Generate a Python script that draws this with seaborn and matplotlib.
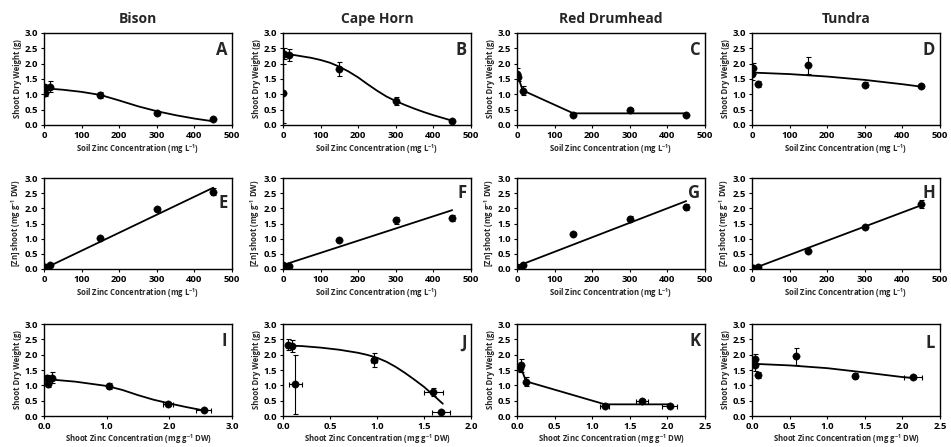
import numpy as np
import pandas as pd
import matplotlib
matplotlib.use("Agg")
import matplotlib.pyplot as plt
import seaborn as sns

# ---------------- data ----------------
cultivars = ["Bison", "Cape Horn", "Red Drumhead", "Tundra"]
soil_zn = [0, 3, 15, 150, 300, 450]

# shoot dry weight (g) and SE
weight_bison = [1.23, 1.03, 1.25, 0.98, 0.40, 0.20]
weight_bison_err = [0.12, 0.10, 0.18, 0.10, 0.06, 0.04]
weight_capehorn = [1.03, 2.32, 2.28, 1.83, 0.77, 0.12]
weight_capehorn_err = [0.95, 0.18, 0.20, 0.22, 0.13, 0.03]
weight_reddrum = [1.65, 1.55, 1.12, 0.32, 0.50, 0.33]
weight_reddrum_err = [0.20, 0.10, 0.15, 0.04, 0.05, 0.03]
weight_tundra = [1.67, 1.85, 1.33, 1.95, 1.32, 1.27]
weight_tundra_err = [0.20, 0.18, 0.10, 0.28, 0.07, 0.07]

# shoot Zn concentration (mg g-1 DW) and SE
shootzn_bison = [0.04, 0.06, 0.12, 1.03, 1.98, 2.55]
shootzn_bison_err = [0.01, 0.01, 0.02, 0.03, 0.08, 0.12]
shootzn_capehorn = [0.13, 0.05, 0.10, 0.97, 1.60, 1.68]
shootzn_capehorn_err = [0.07, 0.02, 0.02, 0.03, 0.10, 0.10]
shootzn_reddrum = [0.05, 0.04, 0.12, 1.17, 1.66, 2.03]
shootzn_reddrum_err = [0.01, 0.01, 0.02, 0.06, 0.08, 0.10]
shootzn_tundra = [0.04, 0.04, 0.08, 0.58, 1.37, 2.14]
shootzn_tundra_err = [0.01, 0.01, 0.01, 0.02, 0.03, 0.12]

# fitted curves
fitA_x = [0, 50, 100, 150, 200, 250, 300, 350, 400, 450]
fitA_y = [1.20, 1.15, 1.08, 0.98, 0.80, 0.61, 0.45, 0.32, 0.21, 0.12]
fitB_x = [0, 25, 50, 75, 100, 125, 150, 175, 200, 225, 250, 275, 300, 325, 350, 375, 400, 425, 450]
fitB_y = [2.32, 2.29, 2.24, 2.19, 2.12, 2.03, 1.90, 1.74, 1.55, 1.33, 1.12, 0.93, 0.78, 0.65,
          0.53, 0.42, 0.32, 0.23, 0.14]
fitC_x = [0, 15, 150, 450]
fitC_y = [1.68, 1.13, 0.38, 0.38]
fitD_x = [0, 100, 200, 300, 400, 450]
fitD_y = [1.71, 1.66, 1.58, 1.47, 1.33, 1.25]

fitE_x = [0, 450]
fitE_y = [0.01, 2.68]
fitF_x = [0, 450]
fitF_y = [0.13, 1.94]
fitG_x = [0, 450]
fitG_y = [0.09, 2.24]
fitH_x = [0, 450]
fitH_y = [0.00, 2.10]

fitI_x = [0.05, 0.5, 1.0, 1.25, 1.5, 1.75, 2.0, 2.25, 2.55]
fitI_y = [1.20, 1.12, 0.98, 0.85, 0.68, 0.53, 0.41, 0.30, 0.18]
fitJ_x = [0.05, 0.2, 0.4, 0.6, 0.8, 0.9, 1.0, 1.1, 1.2, 1.3, 1.4, 1.5, 1.6, 1.7]
fitJ_y = [2.30, 2.28, 2.23, 2.16, 2.06, 1.99, 1.90, 1.77, 1.60, 1.40, 1.18, 0.95, 0.68, 0.40]
fitK_x = [0.04, 0.12, 1.17, 2.03]
fitK_y = [1.66, 1.13, 0.38, 0.38]
fitL_x = [0.04, 0.5, 1.0, 1.5, 2.0, 2.14]
fitL_y = [1.70, 1.65, 1.56, 1.42, 1.27, 1.24]

letters = ["A", "B", "C", "D", "E", "F", "G", "H", "I", "J", "K", "L"]
row3_xmax = [3.0, 2.0, 2.5, 2.5]
row3_xstep = [1.0, 0.5, 0.5, 0.5]

# ---------------- style ----------------
sns.set_style("ticks")
plt.rcParams["font.family"] = ["Open Sans", "DejaVu Sans"]
plt.rcParams["font.weight"] = "bold"
plt.rcParams["mathtext.default"] = "regular"
plt.rcParams["axes.linewidth"] = 1.0

fig = plt.figure(figsize=(9.51, 4.47), dpi=100)
W, H = 951.0, 447.0
col_left = [44, 283, 517, 752]
ax_w = 188
rows_px = [(33, 125), (178, 269), (324, 416)]

weights = [weight_bison, weight_capehorn, weight_reddrum, weight_tundra]
weights_err = [weight_bison_err, weight_capehorn_err, weight_reddrum_err, weight_tundra_err]
shootzn = [shootzn_bison, shootzn_capehorn, shootzn_reddrum, shootzn_tundra]
shootzn_err = [shootzn_bison_err, shootzn_capehorn_err, shootzn_reddrum_err, shootzn_tundra_err]
fits_row1 = [(fitA_x, fitA_y), (fitB_x, fitB_y), (fitC_x, fitC_y), (fitD_x, fitD_y)]
fits_row2 = [(fitE_x, fitE_y), (fitF_x, fitF_y), (fitG_x, fitG_y), (fitH_x, fitH_y)]
fits_row3 = [(fitI_x, fitI_y), (fitJ_x, fitJ_y), (fitK_x, fitK_y), (fitL_x, fitL_y)]

tick_fs = 6.8
lab_fs = 5.6
letter_y = [[0.82, 0.82, 0.82, 0.82], [0.73, 0.83, 0.83, 0.83], [0.82, 0.80, 0.81, 0.79]]


def panel(ax, x, y, xerr, yerr, fit, letter, ly):
    ax.errorbar(x, y, xerr=xerr, yerr=yerr, fmt="none", ecolor="black",
                elinewidth=0.8, capsize=1.8, capthick=0.8, zorder=2)
    sns.lineplot(x=fit[0], y=fit[1], ax=ax, color="black", lw=1.3,
                 estimator=None, sort=False, zorder=3)
    sns.scatterplot(x=x, y=y, ax=ax, color="black", s=28, edgecolor="black",
                    linewidth=0.3, zorder=4)
    ax.set_ylim(0, 3.0)
    ax.set_yticks(np.arange(0, 3.01, 0.5))
    ax.set_yticklabels([f"{v:.1f}" for v in np.arange(0, 3.01, 0.5)])
    for s in ax.spines.values():
        s.set_visible(True)
        s.set_color("black")
    ax.tick_params(direction="out", length=2.5, width=0.8, labelsize=tick_fs,
                   pad=1.5, colors="black")
    ax.text(0.975, ly, letter, transform=ax.transAxes, ha="right", va="center",
            fontsize=12, fontweight="bold")


for r in range(3):
    top, bot = rows_px[r]
    for c in range(4):
        ax = fig.add_axes([col_left[c] / W, 1 - bot / H, ax_w / W, (bot - top) / H])
        letter = letters[r * 4 + c]
        ly = letter_y[r][c]
        if r == 0:
            panel(ax, soil_zn, weights[c], None, weights_err[c], fits_row1[c], letter, ly)
            ax.set_xlim(0, 500)
            ax.set_xticks(range(0, 501, 100))
            ax.set_ylabel("Shoot Dry Weight (g)", fontsize=lab_fs, fontweight="bold", labelpad=2)
            ax.set_xlabel("Soil Zinc Concentration (mg L$^{-1}$)", fontsize=lab_fs,
                          fontweight="bold", labelpad=2)
            fig.text((col_left[c] + ax_w / 2) / W, 1 - 23.0 / H, cultivars[c],
                     ha="center", va="baseline", fontsize=10, fontweight="bold")
        elif r == 1:
            panel(ax, soil_zn, shootzn[c], None, shootzn_err[c], fits_row2[c], letter, ly)
            ax.set_xlim(0, 500)
            ax.set_xticks(range(0, 501, 100))
            ax.set_ylabel("[Zn] shoot (mg g$^{-1}$ DW)", fontsize=lab_fs, fontweight="bold", labelpad=2)
            ax.set_xlabel("Soil Zinc Concentration (mg L$^{-1}$)", fontsize=lab_fs,
                          fontweight="bold", labelpad=2)
        else:
            panel(ax, shootzn[c], weights[c], shootzn_err[c], weights_err[c], fits_row3[c], letter, ly)
            ax.set_xlim(0, row3_xmax[c])
            xt = np.arange(0, row3_xmax[c] + 1e-9, row3_xstep[c])
            ax.set_xticks(xt)
            ax.set_xticklabels([f"{v:.1f}" for v in xt])
            ax.set_ylabel("Shoot Dry Weight (g)", fontsize=lab_fs, fontweight="bold", labelpad=2)
            ax.set_xlabel("Shoot Zinc Concentration (mg g$^{-1}$ DW)", fontsize=lab_fs,
                          fontweight="bold", labelpad=1)
        for lbl in ax.get_xticklabels() + ax.get_yticklabels():
            lbl.set_fontweight("bold")

fig.savefig("out.png", dpi=100, facecolor="white")
